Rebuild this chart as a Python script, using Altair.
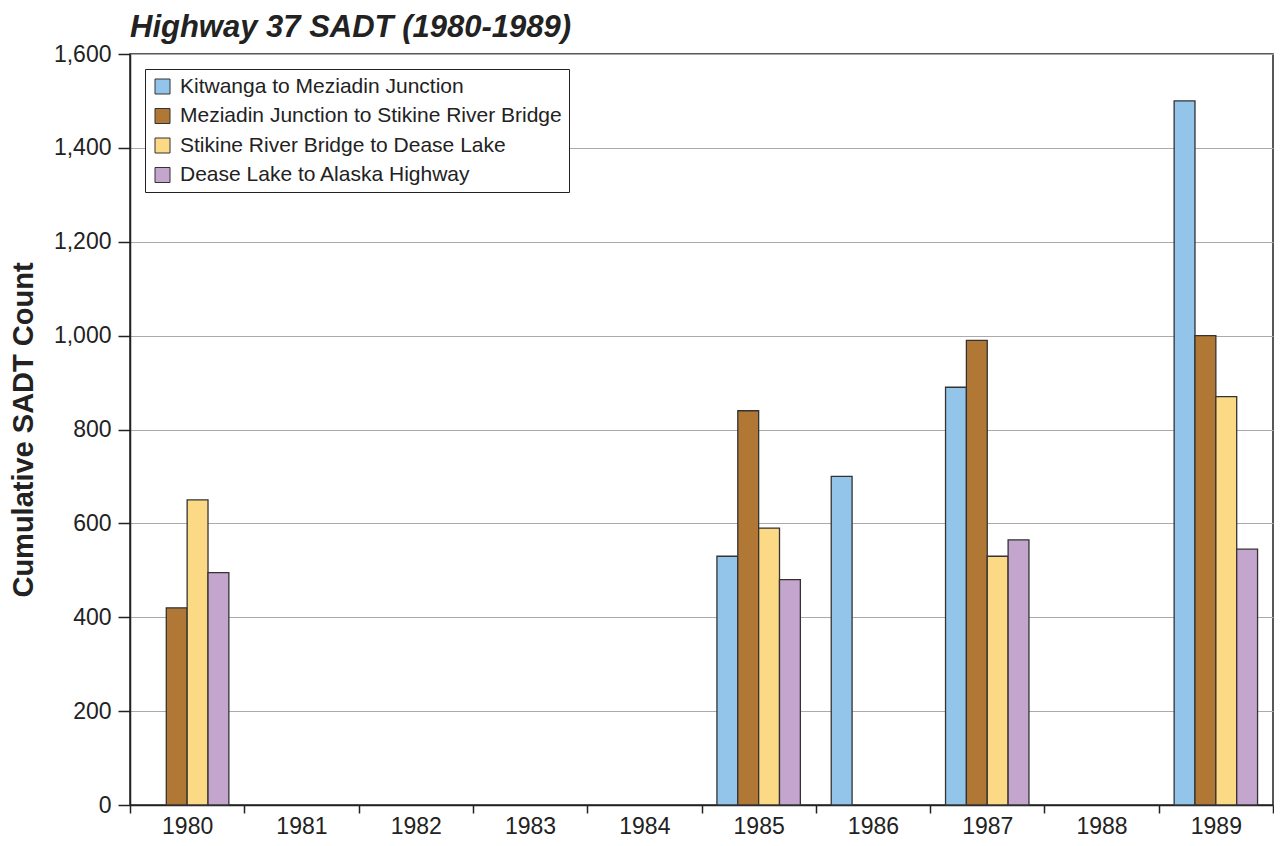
import altair as alt
import pandas as pd

years = ["1980", "1981", "1982", "1983", "1984", "1985", "1986", "1987", "1988", "1989"]
segments = [
    "Kitwanga to Meziadin Junction",
    "Meziadin Junction to Stikine River Bridge",
    "Stikine River Bridge to Dease Lake",
    "Dease Lake to Alaska Highway",
]
kitwanga = [None, None, None, None, None, 530, 700, 890, None, 1500]
meziadin = [420, None, None, None, None, 840, None, 990, None, 1000]
stikine = [650, None, None, None, None, 590, None, 530, None, 870]
dease = [495, None, None, None, None, 480, None, 565, None, 545]
colors = ["#93c5ea", "#b07834", "#fcd985", "#c4a5cd"]
y_ticks = [0, 200, 400, 600, 800, 1000, 1200, 1400, 1600]

rows = []
for seg, vals in zip(segments, [kitwanga, meziadin, stikine, dease]):
    for y, v in zip(years, vals):
        if v is not None:
            rows.append({"Year": y, "Segment": seg, "Count": v})
df = pd.DataFrame(rows)

FONT = "Liberation Sans"
INK = "#222222"

chart = (
    alt.Chart(df)
    .mark_bar(stroke="#333333", strokeWidth=1.3)
    .encode(
        x=alt.X(
            "Year:N",
            scale=alt.Scale(domain=years, paddingInner=0, paddingOuter=0),
            axis=alt.Axis(
                title=None,
                labelAngle=0,
                tickBand="extent",
                labelFontSize=23,
                labelColor=INK,
                labelPadding=2,
                tickSize=8,
                tickColor=INK,
                domainColor=INK,
                tickWidth=1.5,
                domainWidth=1.5,
                grid=False,
            ),
        ),
        xOffset=alt.XOffset(
            "Segment:N",
            sort=segments,
            scale=alt.Scale(domain=segments, paddingInner=0, paddingOuter=0.74),
        ),
        y=alt.Y(
            "Count:Q",
            scale=alt.Scale(domain=[0, 1600]),
            axis=alt.Axis(
                title="Cumulative SADT Count",
                titleFontSize=29,
                titleFontWeight="bold",
                titleColor=INK,
                titlePadding=15,
                values=y_ticks,
                format=",.0f",
                labelFontSize=23,
                labelColor=INK,
                labelPadding=7,
                tickSize=12,
                tickColor=INK,
                domainColor=INK,
                tickWidth=1.5,
                domainWidth=1.5,
                grid=True,
                gridColor="#aaaaaa",
                gridWidth=1,
            ),
        ),
        color=alt.Color(
            "Segment:N",
            sort=segments,
            scale=alt.Scale(domain=segments, range=colors),
            legend=alt.Legend(
                title=None,
                orient="top-left",
                offset=15,
                padding=7,
                strokeColor=INK,
                fillColor="white",
                symbolType="square",
                symbolSize=225,
                symbolStrokeColor="#333333",
                symbolStrokeWidth=1,
                symbolOpacity=1,
                labelFontSize=21,
                labelColor=INK,
                labelOffset=7,
                rowPadding=7.5,
                labelLimit=600,
            ),
        ),
    )
    .properties(
        width=1143,
        height=751,
        title=alt.TitleParams(
            "Highway 37 SADT (1980-1989)",
            anchor="start",
            frame="group",
            fontSize=31,
            fontWeight="bold",
            fontStyle="italic",
            color=INK,
            offset=-1,
        ),
        autosize=alt.AutoSizeParams(type="none"),
        padding={"left": 122, "top": 46, "right": 1, "bottom": 33},
    )
    .configure(font=FONT)
    .configure_view(stroke=INK, strokeWidth=1.5)
)

chart.save("out.html", embed_options={"renderer": "svg", "actions": False})
